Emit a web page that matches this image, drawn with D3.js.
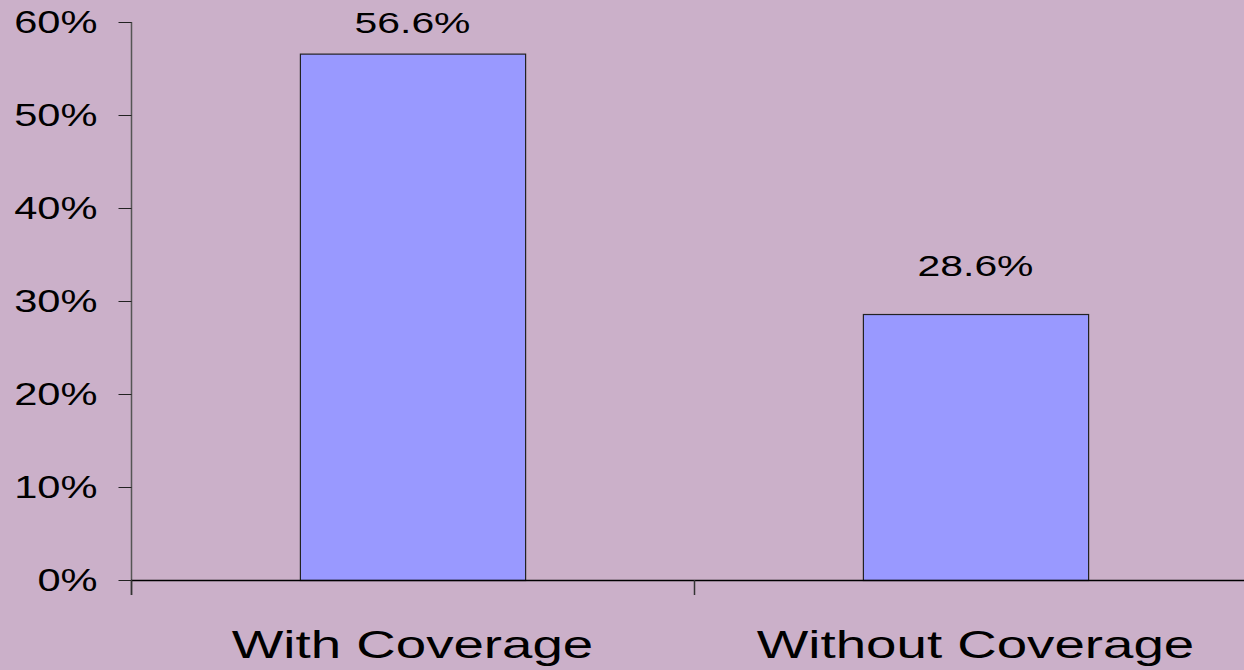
<!DOCTYPE html>
<html><head><meta charset="utf-8">
<script src="https://cdn.jsdelivr.net/npm/d3@7"></script>
<style>html,body{margin:0;padding:0;background:#CBB0C9;}svg{display:block;}</style>
</head><body>
<svg id="c" width="1244" height="670"></svg>
<script>
const categories = ["With Coverage", "Without Coverage"];
const values = [56.6, 28.6];
const valueLabels = ["56.6%", "28.6%"];
const yTicks = [0, 10, 20, 30, 40, 50, 60];

const svg = d3.select("#c");
svg.append("rect").attr("width",1244).attr("height",670).attr("fill","#CBB0C9");
const x = d3.scaleBand().domain(categories).range([131,1257]).paddingInner(0.6).paddingOuter(0.3);
const y = d3.scaleLinear().domain([0,60]).range([580,22]);
const font = "Liberation Sans, Arial, sans-serif";

// bars
svg.selectAll("rect.bar").data(values).enter().append("rect")
  .attr("class","bar")
  .attr("x",(d,i)=>x(categories[i])+0.5)
  .attr("y",d=>y(d)+0.5)
  .attr("width",x.bandwidth())
  .attr("height",d=>y(0)-y(d))
  .attr("fill","#9999FF").attr("stroke","#222").attr("stroke-width",1.2);

// y axis
const tickSX = 1.3;
const ya = svg.append("g").attr("transform","translate(131.5,0)")
  .call(d3.axisLeft(y).tickValues(yTicks).tickFormat(d=>d+"%").tickSize(13).tickPadding(21));
ya.select(".domain").attr("stroke","#555").attr("stroke-width",1.5).attr("d","M0,"+y(60)+"V"+(y(0)+15));
ya.selectAll(".tick line").attr("stroke","#222");
ya.selectAll("text").attr("font-family",font).attr("font-size",32).attr("fill","#000")
  .attr("dy","0.33em").attr("x",-34/tickSX).attr("transform","scale("+tickSX+",1)");

// x axis
svg.append("line").attr("x1",131).attr("x2",1244).attr("y1",580.5).attr("y2",580.5).attr("stroke","#000").attr("stroke-width",1.5);
const bounds = [x.range()[0], x.range()[0] + x.step()];
svg.selectAll("line.xt").data(bounds).enter().append("line")
  .attr("x1",d=>d+0.5).attr("x2",d=>d+0.5).attr("y1",580).attr("y2",595)
  .attr("stroke","#333").attr("stroke-width",1.5);
svg.selectAll("text.xl").data(categories).enter().append("text")
  .attr("transform",d=>"translate("+(x(d)+x.bandwidth()/2)+",658) scale(1.42,1)")
  .attr("text-anchor","middle").attr("font-family",font).attr("font-size",38.5).attr("fill","#000")
  .text(d=>d);

// value labels
svg.selectAll("text.vl").data(values).enter().append("text")
  .attr("transform",(d,i)=>"translate("+(x(categories[i])+x.bandwidth()/2)+","+Math.max(y(d)-38, 33)+") scale(1.41,1)")
  .attr("text-anchor","middle").attr("font-family",font).attr("font-size",29).attr("fill","#000")
  .text((d,i)=>valueLabels[i]);
</script>
</body></html>
